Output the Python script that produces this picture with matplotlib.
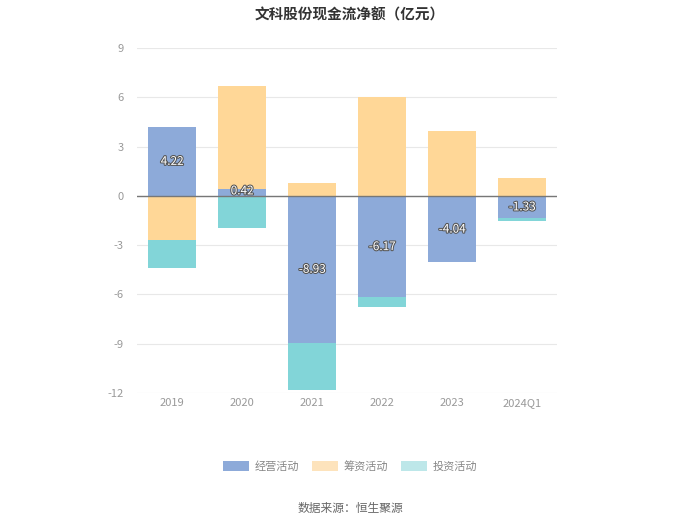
import numpy as np
import matplotlib.pyplot as plt
import matplotlib.patheffects as pe
from matplotlib.patches import Patch

plt.rcParams['font.family'] = ['Noto Sans CJK SC', 'DejaVu Sans']
plt.rcParams['axes.unicode_minus'] = False

years = ['2019', '2020', '2021', '2022', '2023', '2024Q1']
jingying = [4.22, 0.42, -8.93, -6.17, -4.04, -1.33]
chouzi = [-2.67, 6.28, 0.77, 6.04, 3.93, 1.07]
touzi = [-1.73, -1.96, -2.90, -0.62, 0.0, -0.17]
names = ['经营活动', '筹资活动', '投资活动']
colors = ['#8DAAD9', '#FFD797', '#82D5D8']
legend_colors = ['#8DAAD9', '#FDE3BC', '#BDE7E9']

fig = plt.figure(figsize=(7, 5.24), dpi=100)
ax = fig.add_axes([0.196, 0.25, 0.6, 0.658])

x = np.arange(len(years))
pos = np.zeros(len(years))
neg = np.zeros(len(years))
for vals, c in zip([jingying, chouzi, touzi], colors):
    v = np.array(vals)
    bottom = np.where(v >= 0, pos, neg)
    ax.bar(x, v, 0.69, bottom=bottom, color=c, zorder=2)
    pos = pos + np.where(v >= 0, v, 0)
    neg = neg + np.where(v < 0, v, 0)

# labels on operating bars
for i, v in enumerate(jingying):
    ax.text(x[i], v / 2 if abs(v) > 1 else v / 2 + 0.1, f'{v:.2f}', ha='center', va='center',
            fontsize=8.5, color='white', zorder=4,
            path_effects=[pe.withStroke(linewidth=1.5, foreground='#555555')])

ax.axhline(0, color='#777777', lw=1, zorder=3)
ax.set_xlim(-0.5, 5.5)
ax.set_ylim(-12, 9)
ax.set_yticks(np.arange(-12, 10, 3))
ax.set_xticks(x)
ax.set_xticklabels(years)
ax.grid(axis='y', color='#E8E8E8', lw=0.8, zorder=0)
for s in ax.spines.values():
    s.set_visible(False)
ax.tick_params(length=0, colors='#999999', labelsize=8)
ax.tick_params(axis='y', pad=10)

fig.text(0.5, 0.972, '文科股份现金流净额（亿元）', ha='center', va='center',
         fontsize=10.5, fontweight='bold', color='#333333')

handles = [Patch(facecolor=c, edgecolor='none') for c in legend_colors]
fig.legend(handles, names, loc='center', bbox_to_anchor=(0.5, 0.11), ncol=3,
           frameon=False, fontsize=8, handlelength=2.3, handleheight=1.0,
           columnspacing=1.2, handletextpad=0.5, labelcolor='#888888')

fig.text(0.5, 0.03, '数据来源：恒生聚源', ha='center', va='center',
         fontsize=8.5, color='#666666')

fig.savefig('out.png', dpi=100, facecolor='white')
